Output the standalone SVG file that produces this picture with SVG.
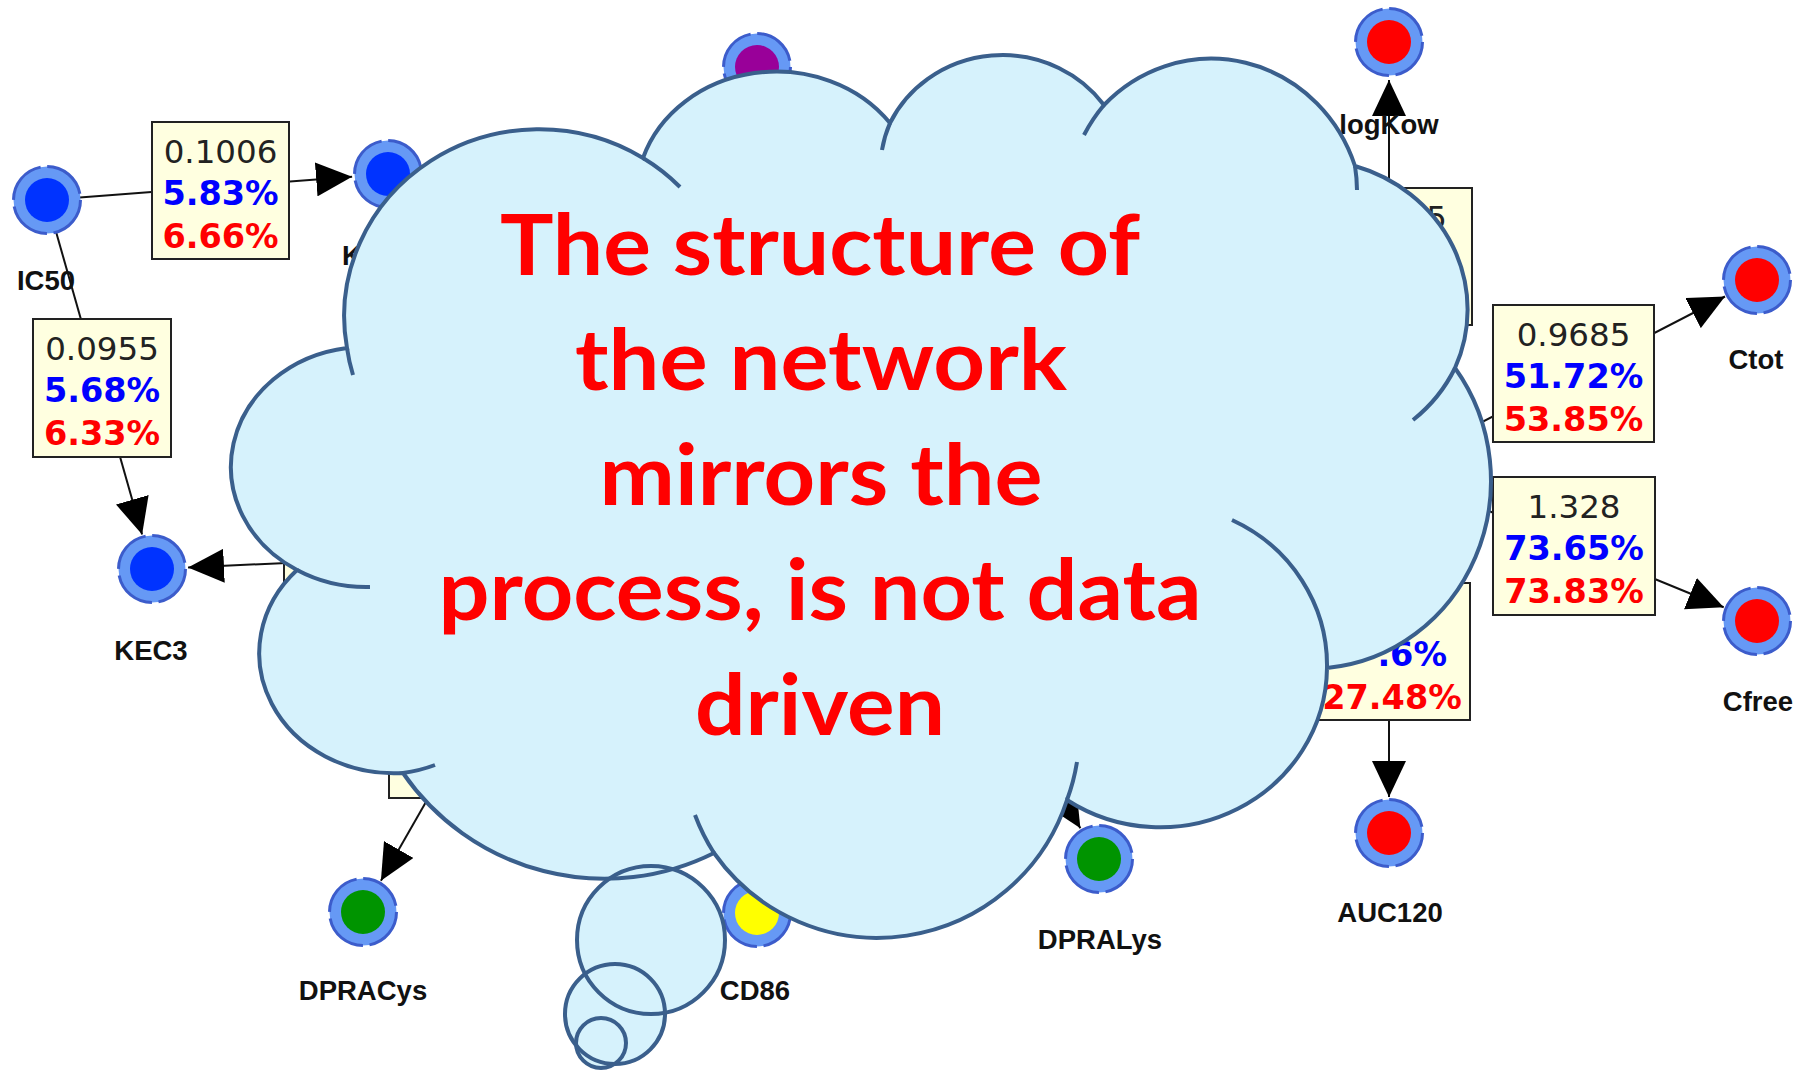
<svg xmlns="http://www.w3.org/2000/svg" width="1803" height="1071" viewBox="0 0 1803 1071">
<defs>
<style>
.ring{fill:#6699F5;stroke:#3C5CCB;stroke-width:3;stroke-dasharray:46 6.6}
.blue{fill:#0033FF}
.red{fill:#FF0000}
.green{fill:#009400}
.purple{fill:#990099}
.yellow{fill:#FFFF00}
.lbl{font-family:"Liberation Sans",Arial,sans-serif;font-weight:bold;font-size:27.5px;fill:#111;text-anchor:middle}
.edge{stroke:#111;stroke-width:2;fill:none}
.box rect{fill:#FFFFE0;stroke:#222;stroke-width:2}
.v{font-family:"DejaVu Sans",sans-serif;font-size:32.5px;text-anchor:middle}
.v0{fill:#222}
.v1{fill:#0000FF;font-weight:bold;font-size:33.5px}
.v2{fill:#FF0000;font-weight:bold;font-size:33.5px}
.cf{fill:#D6F2FC;stroke:none}
.cl{fill:none;stroke:#3A5F8C;stroke-width:4}
.msg{font-family:Lato,"Open Sans",sans-serif;font-weight:bold;font-size:84px;fill:#FF0000;text-anchor:middle}
</style>
<marker id="arr" markerUnits="userSpaceOnUse" markerWidth="36" markerHeight="34" viewBox="0 0 36 34" refX="36" refY="17" orient="auto"><path d="M0,0 L36,17 L0,34 Z" fill="#000"/></marker>
<path id="cloudpath" d="M347 348 A135 120 0 0 0 297 570 A135 120 0 0 0 403 773 A245 245 0 0 0 714 853 A199.5 199.5 0 0 0 1067 800 A167 161 0 0 0 1327 668 A180 188 0 0 0 1455 368 A159 150 0 0 0 1355 166 A152 159 0 0 0 1104 105 A125 120 0 0 0 890 123 A140 124 0 0 0 643 158 A195 187 0 0 0 347 348 Z"/>
</defs>
<rect width="1803" height="1071" fill="#FFFFFF"/>

<g id="connectors">
<line class="edge" x1="47" y1="200" x2="352.1" y2="176.7" marker-end="url(#arr)"/>
<line class="edge" x1="47" y1="200" x2="142.1" y2="534.4" marker-end="url(#arr)"/>
<line class="edge" x1="570" y1="550" x2="188" y2="567.4" marker-end="url(#arr)"/>
<line class="edge" x1="570" y1="550" x2="380.9" y2="880.8" marker-end="url(#arr)"/>
<line class="edge" x1="1389" y1="470" x2="1389" y2="80" marker-end="url(#arr)"/>
<line class="edge" x1="1389" y1="470" x2="1389" y2="797" marker-end="url(#arr)"/>
<line class="edge" x1="1389" y1="470" x2="1725" y2="296.5" marker-end="url(#arr)"/>
<line class="edge" x1="1389" y1="470" x2="1723.7" y2="607.3" marker-end="url(#arr)"/>
<line class="edge" x1="900" y1="530" x2="1080.4" y2="828.2" marker-end="url(#arr)"/>
</g>

<g id="edge-labels">
<g id="box-ic50-k" class="box"><rect x="152" y="122" width="137" height="137"/>
<text class="v v0" x="220.5" y="163">0.1006</text><text class="v v1" x="220.5" y="205">5.83%</text><text class="v v2" x="220.5" y="248">6.66%</text></g>
<g id="box-ic50-kec3" class="box"><rect x="33" y="319" width="138" height="138"/>
<text class="v v0" x="102" y="360">0.0955</text><text class="v v1" x="102" y="402">5.68%</text><text class="v v2" x="102" y="445">6.33%</text></g>
<g id="box-ctot" class="box"><rect x="1493" y="305" width="161" height="137"/>
<text class="v v0" x="1573.5" y="346">0.9685</text><text class="v v1" x="1573.5" y="388">51.72%</text><text class="v v2" x="1573.5" y="431">53.85%</text></g>
<g id="box-cfree" class="box"><rect x="1493" y="477" width="162" height="138"/>
<text class="v v0" x="1574" y="518">1.328</text><text class="v v1" x="1574" y="560">73.65%</text><text class="v v2" x="1574" y="603">73.83%</text></g>
<g id="box-logkow" class="box"><rect x="1308" y="188" width="164" height="137"/>
<text class="v v0" x="1447" y="229" style="text-anchor:end">5</text></g>
<g id="box-auc120" class="box"><rect x="1308" y="583" width="162" height="137"/>
<text class="v v1" x="1447" y="666" style="text-anchor:end">.6%</text><text class="v v2" x="1392" y="709">27.48%</text></g>
<g id="box-kec3-right" class="box"><rect x="284" y="491" width="154" height="137"/></g>
<g id="box-dpracys" class="box"><rect x="389" y="661" width="162" height="137"/></g>
</g>

<g id="node-ic50"><circle class="ring" cx="47" cy="200" r="33.5"/><circle class="blue" cx="47" cy="200" r="22"/><text class="lbl" x="46" y="290">IC50</text></g>
<g id="node-k"><circle class="ring" cx="388" cy="174" r="33.5"/><circle class="blue" cx="388" cy="174" r="22"/><text class="lbl" x="342" y="265" style="text-anchor:start">K</text></g>
<g id="node-kec3"><circle class="ring" cx="152" cy="569" r="33.5"/><circle class="blue" cx="152" cy="569" r="22"/><text class="lbl" x="151" y="660">KEC3</text></g>
<g id="node-purple"><circle class="ring" cx="757" cy="67" r="33.5"/><circle class="purple" cx="757" cy="67" r="22"/></g>
<g id="node-logkow"><circle class="ring" cx="1389" cy="42" r="33.5"/><circle class="red" cx="1389" cy="42" r="22"/><text class="lbl" x="1389" y="134">logKow</text></g>
<g id="node-ctot"><circle class="ring" cx="1757" cy="280" r="33.5"/><circle class="red" cx="1757" cy="280" r="22"/><text class="lbl" x="1756" y="369">Ctot</text></g>
<g id="node-cfree"><circle class="ring" cx="1757" cy="621" r="33.5"/><circle class="red" cx="1757" cy="621" r="22"/><text class="lbl" x="1758" y="711">Cfree</text></g>
<g id="node-auc120"><circle class="ring" cx="1389" cy="833" r="33.5"/><circle class="red" cx="1389" cy="833" r="22"/><text class="lbl" x="1390" y="922">AUC120</text></g>
<g id="node-dpralys"><circle class="ring" cx="1099" cy="859" r="33.5"/><circle class="green" cx="1099" cy="859" r="22"/><text class="lbl" x="1100" y="949">DPRALys</text></g>
<g id="node-dpracys"><circle class="ring" cx="363" cy="912" r="33.5"/><circle class="green" cx="363" cy="912" r="22"/><text class="lbl" x="363" y="1000">DPRACys</text></g>
<g id="node-cd86"><circle class="ring" cx="757" cy="913" r="33.5"/><circle class="yellow" cx="757" cy="913" r="22"/><text class="lbl" x="755" y="1000">CD86</text></g>

<g id="cloud-callout">
<use href="#cloudpath" class="cf"/>
<circle class="cf" cx="651" cy="940" r="74"/>
<circle class="cf" cx="615" cy="1014" r="50"/>
<circle class="cf" cx="601" cy="1043" r="25"/>
<use href="#cloudpath" class="cl"/>
<path class="cl" d="M297 570 A135 120 0 0 0 370 587 M347 348 A195 187 0 0 0 353 375 M643 158 A195 187 0 0 1 680 187 M890 123 A125 120 0 0 0 882 150 M1104 105 A152 159 0 0 0 1084 135 M1355 166 A152 159 0 0 1 1357 190 M1455 368 A159 150 0 0 1 1413 420 M1327 668 A167 161 0 0 0 1232 520 M714 853 A199.5 199.5 0 0 1 695 815 M1067 800 A199.5 199.5 0 0 0 1077 762 M403 773 A135 120 0 0 0 435 765"/>
<circle class="cl" cx="651" cy="940" r="74"/>
<circle class="cl" cx="615" cy="1014" r="50"/>
<circle class="cl" cx="601" cy="1043" r="25"/>
<text class="msg" x="820" y="275" textLength="640" lengthAdjust="spacingAndGlyphs">The structure of</text>
<text class="msg" x="821" y="390" textLength="492" lengthAdjust="spacingAndGlyphs">the network</text>
<text class="msg" x="821" y="505" textLength="443" lengthAdjust="spacingAndGlyphs">mirrors the</text>
<text class="msg" x="820" y="620" textLength="763" lengthAdjust="spacingAndGlyphs">process, is not data</text>
<text class="msg" x="820" y="735" textLength="250" lengthAdjust="spacingAndGlyphs">driven</text>
</g>
</svg>
